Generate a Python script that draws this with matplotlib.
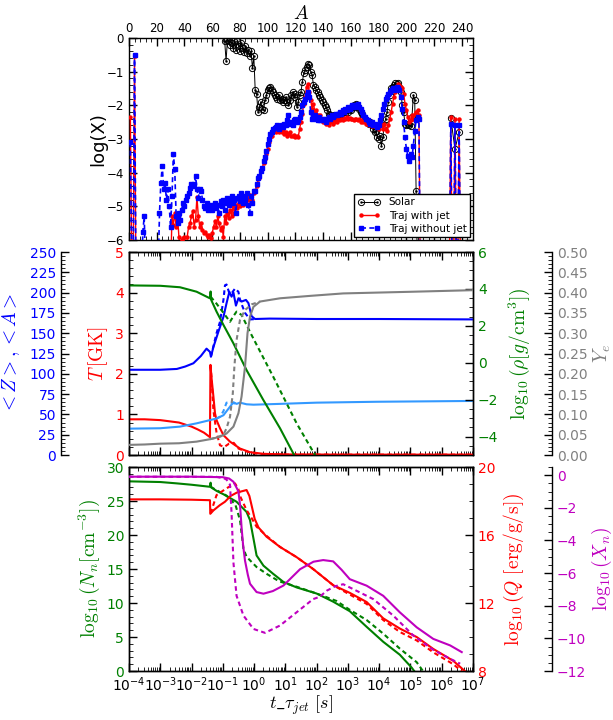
import numpy as np
import matplotlib
matplotlib.use('Agg')
import matplotlib.pyplot as plt
from matplotlib.ticker import MultipleLocator, FormatStrFormatter, LogLocator, NullFormatter

# ---------------- data : top panel (abundance vs mass number) ----------------
A_solar = list(range(69, 209)) + [np.nan, 232, 235, 238]
X_solar = [-0.1, -0.68, -0.05, -0.1, -0.2, -0.15, -0.3, -0.08, -0.35, -0.1,
           -0.25, -0.4, -0.15, -0.3, -0.42, -0.25, -0.45, -0.35, -0.55, -0.4,
           -0.9, -0.55, -1.55, -1.65, -2.2, -2.05, -1.9, -2.1, -2.15, -1.85,
           -1.7, -1.55, -1.5, -1.45, -1.55, -1.6, -1.7, -1.75, -1.8, -1.7,
           -1.85, -1.8, -1.9, -1.85, -1.75, -1.9, -2.0, -1.85, -1.7, -1.6,
           -1.75, -1.65, -2.05, -1.9, -1.7, -1.6, -1.3, -1.05, -0.95, -0.85,
           -0.78, -0.8, -1.0, -1.1, -1.4, -1.45, -1.55, -1.6, -1.7, -1.75,
           -1.85, -1.9, -2.0, -2.05, -2.15, -2.25, -2.3, -2.4, -2.35, -2.3,
           -2.35, -2.3, -2.35, -2.3, -2.25, -2.3, -2.2, -2.25, -2.15, -2.2,
           -2.1, -2.15, -2.05, -2.0, -2.05, -1.95, -2.05, -2.1, -2.2, -2.25,
           -2.35, -2.4, -2.45, -2.5, -2.55, -2.5, -2.6, -2.7, -2.8, -2.75,
           -2.95, -3.0, -2.9, -3.2, -2.95, -2.6, -2.4, -2.2, -1.9, -1.7,
           -1.5, -1.45, -1.4, -1.35, -1.38, -1.35, -1.45, -1.6, -2.0, -2.2,
           -2.55, -2.6, -2.55, -2.6, -2.62, -2.35, -1.7, -1.85, -4.55, -7.0,
           np.nan, -2.38, -3.3, -2.8]

A_jet = [1, 2, 3, 4, 5] + list(range(30, 211)) + [231, 232, 233, 234, 235, 236, 237, 238, 239]
X_jet = [-2.35, -7.0, -7.0, -0.55, -7.0,
         -7.0,
         -5.3, -5.55, -5.2, -5.6, -5.3, -5.9, -7.0, -6.0, -5.95, -5.9,
         -7.0, -5.9, -5.6, -5.5, -5.3, -5.15, -5.6, -5.4, -4.72, -5.3,
         -5.6, -5.5, -5.7, -5.8, -5.75, -5.85, -5.9, -5.85, -5.95, -5.8,
         -5.6, -5.45, -5.6, -5.3, -5.5, -5.7, -5.6, -5.9, -5.3, -5.5,
         -5.2, -5.35, -5.1, -5.3, -5.0, -5.2, -4.95, -5.05, -4.9, -5.0,
         -4.85, -4.95, -4.75, -4.9, -4.7, -4.8, -4.65, -4.85, -4.8, -4.6,
         -4.55, -4.4, -4.2, -4.15, -3.95, -3.9, -3.7, -3.6, -3.45, -3.3,
         -3.1, -2.95, -2.9, -2.8, -2.75, -2.8, -2.72, -2.78, -2.75, -2.8,
         -2.72, -2.85, -2.8, -2.9, -2.85, -2.8, -2.9, -2.92, -2.88, -2.95,
         -2.9, -2.95, -2.7, -2.5, -2.25, -1.95, -1.75, -1.45, -1.38, -1.6,
         -1.85, -2.1, -1.95, -2.2, -2.15, -2.3, -2.4, -2.3, -2.45, -2.5,
         -2.45, -2.55, -2.5, -2.6, -2.5, -2.45, -2.55, -2.5, -2.45, -2.5,
         -2.42, -2.45, -2.4, -2.45, -2.38, -2.42, -2.35, -2.4, -2.38, -2.42,
         -2.4, -2.45, -2.4, -2.42, -2.45, -2.4, -2.5, -2.45, -2.5, -2.48,
         -2.55, -2.5, -2.6, -2.55, -2.62, -2.6, -2.55, -2.65, -2.6, -2.7,
         -2.55, -2.6, -2.7, -2.55, -2.7, -2.75, -2.6, -2.4, -2.2, -1.95,
         -1.75, -1.6, -1.45, -1.38, -1.4, -1.45, -1.5, -1.65, -1.95, -2.15,
         -2.35, -2.5, -2.45, -2.3, -2.4, -2.25, -2.2, -2.15, -2.3, -7.0,
         -7.0, -2.35, -7.0, -7.0, -2.4, -7.0, -7.0, -2.4, -7.0]

A_nojet = [1, 2, 3, 4, 5, 9, 10, 11, 12, 21] + list(range(22, 211)) + [231, 232, 233, 234, 235, 236, 237, 238, 239]
X_nojet = [-3.1, -7.0, -7.0, -0.5, -7.0, -7.0, -5.75, -5.3, -7.0, -7.0,
           -5.2, -4.3, -3.8, -4.5, -4.3, -4.8, -4.5, -5.0, -5.6, -4.7,
           -3.45, -3.9, -5.3, -5.5, -5.2, -5.4, -5.1, -4.9, -5.0, -4.8,
           -4.7, -4.6, -4.45, -4.35, -4.4, -4.35, -4.1, -4.5, -4.75, -4.5,
           -4.55, -4.8, -5.0, -5.05, -4.9, -5.1, -5.0, -4.95, -5.1, -5.0,
           -4.9, -5.05, -4.95, -5.2, -4.85, -5.0, -4.8, -5.1, -4.9, -4.75,
           -4.95, -4.85, -4.7, -4.9, -4.8, -5.2, -4.75, -4.7, -4.85, -4.6,
           -4.9, -4.7, -4.8, -4.6, -4.95, -5.2, -4.7, -4.9, -4.55,
           -4.55, -4.35, -4.15, -4.1, -3.95, -3.85, -3.65, -3.55, -3.35, -3.15,
           -3.0, -2.85, -2.8, -2.7, -2.68, -2.65, -2.6, -2.7, -2.62, -2.6,
           -2.65, -2.55, -2.6, -2.45, -2.3, -2.55, -2.5, -2.6, -2.45, -2.4,
           -2.5, -2.45, -2.35, -2.2, -2.0, -1.9, -1.8, -1.7, -1.6, -1.75,
           -2.2, -2.4, -2.35, -2.3, -2.4, -2.45, -2.35, -2.45, -2.4, -2.45,
           -2.4, -2.5, -2.4, -2.35, -2.4, -2.3, -2.35, -2.3, -2.25, -2.3,
           -2.25, -2.2, -2.25, -2.15, -2.2, -2.1, -2.15, -2.05, -2.1, -2.05,
           -2.0, -2.05, -1.98, -2.0, -1.95, -2.05, -2.1, -2.2, -2.3, -2.35,
           -2.4, -2.45, -2.5, -2.55, -2.5, -2.6, -2.55, -2.6, -2.65, -2.6,
           -2.45, -2.3, -2.1, -1.95, -1.8, -1.75, -1.65, -1.6, -1.55, -1.5,
           -1.55, -1.5, -1.45, -1.48, -1.55, -1.75, -2.1, -2.5, -2.95, -3.3,
           -3.5, -3.65, -3.45, -3.55, -3.2, -2.75, -2.45, -2.35, -2.4, -7.0,
           -7.0, -2.55, -7.0, -7.0, -2.6, -7.0, -7.0, -2.6, -7.0]

# ---------------- data : middle panel (log10 time, values) ----------------
lt_T = [-4, -3.5, -3, -2.4, -2, -1.8, -1.6, -1.41, -1.395, -1.36, -1.30, -1.25, -1.2, -1.09,
        -0.98, -0.77, -0.45, -0.13, 0.3, 1.0, 3.0, 7.0]
T_sol = [0.88, 0.88, 0.86, 0.80, 0.70, 0.63, 0.55, 0.44, 2.22, 1.9, 1.44, 1.03, 0.86, 0.66,
         0.49, 0.33, 0.16, 0.07, 0.03, 0.015, 0.01, 0.01]
lt_Td = [-1.395, -1.36, -1.30, -1.2, -1.09, -0.95, -0.8, -0.65, -0.5, -0.3, -0.1, 0.2, 1.0, 7.0]
T_dsh = [2.22, 1.9, 1.1, 0.55, 0.24, 0.20, 0.28, 0.30, 0.16, 0.10, 0.06, 0.02, 0.01, 0.01]

lt_rho = [-4, -3, -2.37, -1.84, -1.41, -1.39, -1.37, -1.2, -0.98, -0.66, -0.24, 0.29, 0.83, 1.25, 1.40]
rho_sol = [4.19, 4.17, 4.09, 3.85, 3.49, 3.86, 3.40, 2.77, 2.05, 1.05, -0.40, -2.0, -3.55, -4.9, -5.4]
lt_rhod = [-1.39, -1.2, -1.0, -0.77, -0.65, -0.56, -0.40, -0.08, 0.61, 1.36, 1.95, 2.05]
rho_dsh = [3.58, 3.2, 2.75, 2.22, 2.55, 2.77, 2.59, 1.5, -0.75, -3.28, -5.0, -5.3]

lt_A = [-4, -3, -2.47, -2.2, -1.94, -1.7, -1.52, -1.41, -1.38, -1.30, -1.14, -0.98, -0.88, -0.79,
        -0.72, -0.66, -0.58, -0.50, -0.40, -0.26, -0.18, -0.08, 0.03, 0.5, 2.0, 4.0, 7.0]
A_sol = [105, 105, 106, 109, 113, 122, 131, 127, 121, 133, 152, 170, 187, 201,
         195, 200, 184, 193, 189, 191, 187, 171, 167.5, 168, 167.5, 167.5, 167]
lt_Ad = [-1.38, -1.2, -1.09, -0.98, -0.93, -0.88, -0.79, -0.72, -0.61, -0.50, -0.45, -0.29, -0.13, 0.1]
A_dsh = [121, 150, 164, 191, 209, 210, 199, 199, 205, 201, 191, 175, 167, 167.5]

lt_Z = [-4, -3, -2.37, -1.84, -1.41, -1.2, -0.98, -0.88, -0.77, -0.66, -0.56, -0.45, -0.24,
        -0.02, 0.83, 2.0, 3.92, 7.0]
Z_sol = [32.5, 33, 35, 39, 43, 45, 49, 54, 59.5, 65, 63, 64.5, 62.5, 62, 63, 64.5, 65.6, 66.6]
lt_Zd = [-1.2, -1.09, -0.98, -0.88, -0.77, -0.6]
Z_dsh = [45, 47, 54, 64.5, 64.5, 63.5]

lt_Ye = [-4, -3.5, -3, -2.4, -1.84, -1.41, -1.09, -0.88, -0.66, -0.5, -0.40, -0.29, -0.21,
         -0.13, -0.02, 0.19, 0.83, 1.8, 2.85, 4.99, 7.0]
Ye_sol = [0.025, 0.026, 0.028, 0.029, 0.033, 0.039, 0.045, 0.053, 0.070, 0.103, 0.144, 0.217,
          0.300, 0.341, 0.365, 0.378, 0.386, 0.392, 0.398, 0.402, 0.406]
lt_Yed = [-1.41, -1.2, -0.98, -0.88, -0.77, -0.68, -0.63, -0.56, -0.45, -0.29, -0.08, 0.19]
Ye_dsh = [0.039, 0.043, 0.05, 0.066, 0.094, 0.152, 0.217, 0.283, 0.333, 0.357, 0.371, 0.378]

# ---------------- data : bottom panel ----------------
lt_Nn = [-4, -3, -2.47, -2, -1.41, -1.39, -1.37, -1.2, -0.98, -0.56, -0.24, -0.13, -0.02, 0.08,
         0.3, 0.61, 0.94, 1.36, 2.0, 2.53, 3.06, 3.6, 4.13, 4.66, 5.04, 5.12]
Nn_sol = [27.9, 27.8, 27.6, 27.4, 27.1, 27.7, 27.0, 26.5, 26.0, 24.9, 23.4, 22.2, 19.5, 17.0,
          15.5, 14.3, 13.1, 12.3, 11.4, 10.2, 8.8, 6.5, 4.3, 2.4, 0.5, 0.0]
lt_Nnd = [-1.39, -1.2, -0.88, -0.6, -0.45, -0.34, -0.24, 0.08, 0.4, 0.8, 1.36, 2.0, 2.64,
          3.06, 3.6, 4.13, 4.66, 5.2, 5.4]
Nn_dsh = [27.1, 26.6, 25.8, 24.5, 22.2, 18.0, 16.8, 15.3, 14.3, 13.2, 12.4, 11.4, 10.3,
          9.0, 7.5, 5.5, 3.3, 1.3, 0.0]

lt_Q = [-4, -3, -2, -1.41, -1.40, -1.3, -1.1, -0.93, -0.75, -0.55, -0.34, -0.24, -0.15, -0.08,
        0.02, 0.14, 0.4, 0.83, 1.36, 1.89, 2.53, 3.06, 3.6, 4.13, 4.66, 5.2, 5.73, 6.37, 6.8]
Q_sol = [18.1, 18.1, 18.08, 18.05, 17.25, 17.45, 17.75, 17.96, 18.3, 18.5, 18.6, 18.65, 18.3, 17.75,
         16.95, 16.45, 15.9, 15.3, 14.7, 14.0, 13.05, 12.6, 12.06, 11.1, 10.5, 10.0, 9.3, 8.6, 7.9]
lt_Qd = [-1.39, -1.2, -0.88, -0.61, -0.5, -0.45, -0.24, -0.08, 0.08, 0.4, 0.83, 1.36, 1.89,
         2.53, 3.06, 3.6, 4.13, 4.66, 5.2, 5.73, 6.37, 6.7]
Q_dsh = [17.28, 18.35, 18.75, 19.04, 18.7, 18.3, 17.47, 17.0, 16.49, 15.95, 15.3, 14.7, 14.0,
         13.05, 12.5, 11.95, 11.0, 10.3, 9.8, 9.1, 8.4, 7.9]

lt_Xn = [-4, -2, -1, -0.8, -0.66, -0.55, -0.5, -0.45, -0.40, -0.35, -0.29, -0.2, -0.13, 0.08,
         0.3, 0.6, 0.94, 1.47, 1.9, 2.21, 2.53, 2.8, 3.06, 3.6, 4.13, 4.66, 5.2, 5.73, 6.27, 6.64]
Xn_sol = [-0.09, -0.09, -0.12, -0.2, -0.4, -0.8, -1.0, -1.8, -3.2, -4.3, -5.23, -6.1, -6.65, -7.16,
          -7.26, -7.1, -6.76, -5.76, -5.3, -5.2, -5.28, -5.8, -6.37, -6.77, -7.39, -8.4, -9.32,
          -10.03, -10.43, -10.84]
lt_Xnd = [-4, -1.2, -0.95, -0.88, -0.77, -0.72, -0.66, -0.56, -0.34, -0.02, 0.35, 0.83, 1.36,
          1.89, 2.1, 2.32, 2.6, 2.85, 3.17, 3.81, 4.45, 5.09, 5.73, 6.27, 6.59]
Xn_dsh = [-0.09, -0.1, -0.2, -0.27, -0.58, -2.3, -5.35, -7.39, -8.6, -9.42, -9.66, -9.21, -8.4,
          -7.59, -7.45, -7.08, -6.8, -6.68, -6.98, -7.59, -8.6, -9.82, -10.7, -11.25, -11.55]

# ---------------- style ----------------
plt.rcParams['font.family'] = ['DejaVu Sans']
plt.rcParams['mathtext.fontset'] = 'dejavusans'
plt.rcParams['xtick.direction'] = 'in'
plt.rcParams['ytick.direction'] = 'in'
plt.rcParams['xtick.major.size'] = 6
plt.rcParams['ytick.major.size'] = 6
plt.rcParams['xtick.minor.size'] = 3
plt.rcParams['ytick.minor.size'] = 3
plt.rcParams['xtick.major.width'] = 1.0
plt.rcParams['ytick.major.width'] = 1.0
plt.rcParams['axes.linewidth'] = 1.0

C_GREEN = '#008000'
C_MAG = '#bf00bf'
C_LB = '#3399ff'
DASH = (0, (2.2, 1.6))

def tt(lt):
    return 10.0 ** np.asarray(lt, dtype=float)

fig = plt.figure(figsize=(6.13, 7.2), dpi=100)
L, W = 0.2104, 0.5612

# ---------------- top panel ----------------
ax1 = fig.add_axes([L, 0.6667, W, 0.2806])
l_sol1, = ax1.plot(A_solar, X_solar, '-', color='k', lw=0.7, marker='o', mfc='none', mec='k',
                   ms=4.5, mew=0.7, zorder=2)
l_sol2, = ax1.plot(A_solar, X_solar, ls='none', marker='.', color='k', ms=1.5, zorder=2)
l_jet, = ax1.plot(A_jet, X_jet, '-', color='r', lw=1.0, marker='o', ms=2.2, mec='r', zorder=3)
l_nojet, = ax1.plot(A_nojet, X_nojet, color='b', lw=1.2, ls=(0, (3, 2)), marker='s', ms=2.2,
                    mec='b', zorder=4)
ax1.set_xlim(0, 248)
ax1.set_ylim(-6, 0)
ax1.xaxis.set_major_locator(MultipleLocator(20))
ax1.xaxis.set_minor_locator(MultipleLocator(4))
ax1.yaxis.set_major_locator(MultipleLocator(1))
ax1.yaxis.set_minor_locator(MultipleLocator(0.2))
ax1.tick_params(axis='x', which='both', top=True, bottom=True, labeltop=True, labelbottom=False,
                labelsize=8.5, pad=2)
ax1.tick_params(axis='y', which='both', left=True, right=True, labelsize=8.5)
ax1.xaxis.set_label_position('top')
ax1.set_xlabel(r'$A$', fontsize=14, math_fontfamily='cm', labelpad=2)
ax1.set_ylabel('log(X)', fontsize=13)
ax1.yaxis.set_label_coords(-0.062, 0.5)
ax1.legend([(l_sol1, l_sol2), l_jet, l_nojet], ['Solar', 'Traj with jet', 'Traj without jet'],
           loc='lower right', fontsize=7.5, numpoints=2, fancybox=False, edgecolor='k',
           framealpha=1, borderaxespad=0.3, handlelength=2.2, borderpad=0.3, labelspacing=0.3)

# ---------------- middle panel ----------------
ax2 = fig.add_axes([L, 0.368, W, 0.282])
ax2.set_xscale('log')
ax2.set_xlim(1e-4, 1e7)
axZ = ax2.twinx()
axRho = ax2.twinx()
axYe = ax2.twinx()

ax2.plot(tt(lt_T), T_sol, color='r', lw=1.5, zorder=3)
ax2.plot(tt(lt_Td), T_dsh, color='r', lw=1.5, ls=DASH, zorder=3)
ax2.set_ylim(0, 5)
ax2.yaxis.set_major_locator(MultipleLocator(1))
ax2.yaxis.set_minor_locator(MultipleLocator(0.2))
ax2.tick_params(axis='y', labelcolor='r', labelsize=10)
ax2.tick_params(axis='x', which='both', top=True, bottom=True, labelbottom=False)
ax2.xaxis.set_major_locator(LogLocator(base=10, numticks=20))
ax2.xaxis.set_minor_locator(LogLocator(base=10, subs=np.arange(2, 10), numticks=20))
ax2.xaxis.set_minor_formatter(NullFormatter())
ax2.set_ylabel(r'$T\,[\mathrm{GK}]$', color='r', fontsize=14, math_fontfamily='cm')
ax2.yaxis.set_label_coords(-0.055, 0.5)

axZ.plot(tt(lt_A), A_sol, color='b', lw=1.5)
axZ.plot(tt(lt_Ad), A_dsh, color='b', lw=1.5, ls=DASH)
axZ.plot(tt(lt_Z), Z_sol, color=C_LB, lw=1.5)
axZ.plot(tt(lt_Zd), Z_dsh, color=C_LB, lw=1.5, ls=DASH)
axZ.set_ylim(0, 250)
for s in ['top', 'bottom', 'right']:
    axZ.spines[s].set_visible(False)
axZ.spines['left'].set_visible(True)
axZ.spines['left'].set_position(('axes', -0.198))
axZ.yaxis.set_ticks_position('left')
axZ.yaxis.set_label_position('left')
axZ.yaxis.set_major_locator(MultipleLocator(25))
axZ.yaxis.set_minor_locator(MultipleLocator(5))
axZ.tick_params(axis='y', labelcolor='b', labelsize=10)
axZ.set_ylabel(r'$<Z>,<A>$', color='b', fontsize=14, math_fontfamily='cm')
axZ.yaxis.set_label_coords(-0.311, 0.5)

axRho.plot(tt(lt_rho), rho_sol, color=C_GREEN, lw=1.5)
axRho.plot(tt(lt_rhod), rho_dsh, color=C_GREEN, lw=1.5, ls=DASH)
axRho.set_ylim(-5, 6)
axRho.yaxis.set_major_locator(MultipleLocator(2))
axRho.yaxis.set_minor_locator(MultipleLocator(0.5))
axRho.tick_params(axis='y', labelcolor=C_GREEN, labelsize=10)
axRho.set_ylabel(r'$\log_{10}(\rho[g/\mathrm{cm}^3])$', color=C_GREEN, fontsize=14,
                 math_fontfamily='cm')
axRho.yaxis.set_label_coords(1.099, 0.5)

axYe.plot(tt(lt_Ye), Ye_sol, color='gray', lw=1.5)
axYe.plot(tt(lt_Yed), Ye_dsh, color='gray', lw=1.5, ls=DASH)
axYe.set_ylim(0, 0.5)
for s in ['top', 'bottom', 'left']:
    axYe.spines[s].set_visible(False)
axYe.spines['right'].set_position(('axes', 1.23))
axYe.yaxis.set_major_locator(MultipleLocator(0.05))
axYe.yaxis.set_minor_locator(MultipleLocator(0.01))
axYe.yaxis.set_major_formatter(FormatStrFormatter('%.2f'))
axYe.tick_params(axis='y', labelcolor='gray', labelsize=10)
axYe.set_ylabel(r'$Y_e$', color='gray', fontsize=14, math_fontfamily='cm')
axYe.yaxis.set_label_coords(1.345, 0.5)

# ---------------- bottom panel ----------------
ax3 = fig.add_axes([L, 0.068, W, 0.2833])
ax3.set_xscale('log')
ax3.set_xlim(1e-4, 1e7)
axQ = ax3.twinx()
axXn = ax3.twinx()

ax3.plot(tt(lt_Nn), Nn_sol, color=C_GREEN, lw=1.5)
ax3.plot(tt(lt_Nnd), Nn_dsh, color=C_GREEN, lw=1.5, ls=DASH)
ax3.set_ylim(0, 30)
ax3.yaxis.set_major_locator(MultipleLocator(5))
ax3.yaxis.set_minor_locator(MultipleLocator(1))
ax3.tick_params(axis='y', labelcolor=C_GREEN, labelsize=10)
ax3.tick_params(axis='x', which='both', top=True, bottom=True, labelsize=10, pad=3)
ax3.xaxis.set_major_locator(LogLocator(base=10, numticks=20))
ax3.xaxis.set_minor_locator(LogLocator(base=10, subs=np.arange(2, 10), numticks=20))
ax3.xaxis.set_minor_formatter(NullFormatter())
ax3.set_ylabel(r'$\log_{10}(N_n[\mathrm{cm}^{-3}])$', color=C_GREEN, fontsize=14,
               math_fontfamily='cm')
ax3.yaxis.set_label_coords(-0.078, 0.5)
ax3.set_xlabel(r'$t\_\tau_{jet}\ [s]$', fontsize=13, math_fontfamily='cm', labelpad=0)

axQ.plot(tt(lt_Q), Q_sol, color='r', lw=1.5)
axQ.plot(tt(lt_Qd), Q_dsh, color='r', lw=1.5, ls=DASH)
axQ.set_ylim(8, 20)
axQ.yaxis.set_major_locator(MultipleLocator(4))
axQ.yaxis.set_minor_locator(MultipleLocator(1))
axQ.tick_params(axis='y', labelcolor='r', labelsize=10)
axQ.set_ylabel(r'$\log_{10}(Q\ [\mathrm{erg/g/s}])$', color='r', fontsize=14,
               math_fontfamily='cm')
axQ.yaxis.set_label_coords(1.084, 0.5)

axXn.plot(tt(lt_Xn), Xn_sol, color=C_MAG, lw=1.5)
axXn.plot(tt(lt_Xnd), Xn_dsh, color=C_MAG, lw=1.5, ls=DASH)
axXn.set_ylim(-12, 0.5)
for s in ['top', 'bottom', 'left']:
    axXn.spines[s].set_visible(False)
axXn.spines['right'].set_position(('axes', 1.23))
axXn.yaxis.set_major_locator(MultipleLocator(2))
axXn.yaxis.set_minor_locator(MultipleLocator(0.5))
axXn.tick_params(axis='y', labelcolor=C_MAG, labelsize=10)
axXn.set_ylabel(r'$\log_{10}(X_n)$', color=C_MAG, fontsize=14, math_fontfamily='cm')
axXn.yaxis.set_label_coords(1.34, 0.5)

fig.savefig('out.png', dpi=100)
